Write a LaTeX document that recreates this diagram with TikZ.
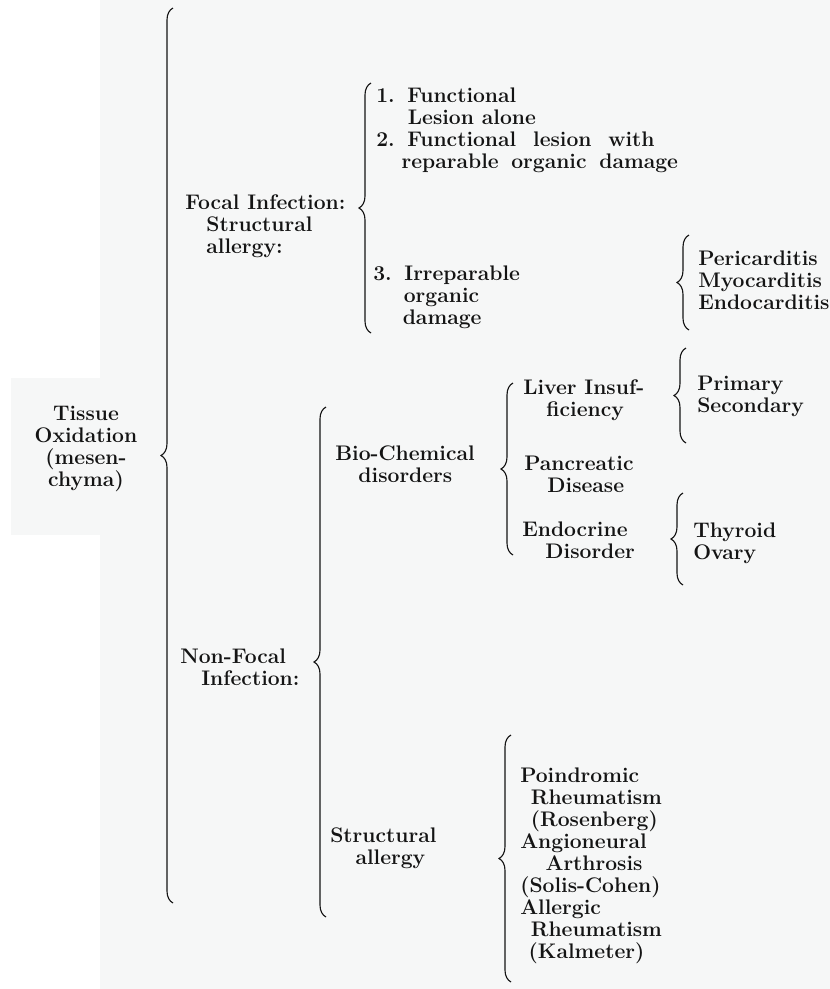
\documentclass[tikz,border=0pt]{standalone}
\usetikzlibrary{decorations.pathreplacing}
\definecolor{paper}{HTML}{F6F7F7}
\definecolor{ink}{HTML}{141414}
\tikzset{
  lbl/.style={anchor=west,inner sep=0pt,align=left,text=ink,font=\fontsize{15}{15.65}\selectfont\bfseries},
  brc/.style={draw=ink,line width=0.8pt,decorate,decoration={brace,amplitude=0.3cm}}
}
\begin{document}
\begin{tikzpicture}[x=0.025cm,y=-0.025cm]
\useasboundingbox (0,0) rectangle (830,989);
\fill[paper] (100,0) rectangle (830,989);
\fill[paper] (11,378) rectangle (100,535);
\node[lbl,anchor=center,align=center] (tissue) at (86,449) {Tissue\\Oxidation\\(mesen-\\chyma)};
\node[lbl] (focal) at (185,226) {Focal Infection:\\\hspace*{1em}Structural\\\hspace*{1em}allergy:};
\node[lbl] (funct) at (376,130) {1.\hspace{0.6em}Functional\\\hspace*{1.5em}Lesion alone\\2.\hspace{0.6em}Functional\hspace{0.8em}lesion\hspace{0.8em}with\\\hspace*{1.2em}reparable\hspace{0.6em}organic\hspace{0.6em}damage};
\node[lbl] (irrep) at (373,297) {3.\hspace{0.6em}Irreparable\\\hspace*{1.45em}organic\\\hspace*{1.4em}damage};
\node[lbl] (cardiac) at (698,280) {Pericarditis\\Myocarditis\\Endocarditis};
\node[lbl] (nonfocal) at (180,667) {Non-Focal\\\hspace*{1em}Infection:};
\node[lbl] (biochem) at (335,464) {Bio-Chemical\\\hspace*{1.1em}disorders};
\node[lbl] (liver) at (523,400) {Liver Insuf-\\\hspace*{1.1em}ficiency};
\node[lbl] (pancreas) at (524,474) {Pancreatic\\\hspace*{1.1em}Disease};
\node[lbl] (endocrine) at (522,540) {Endocrine\\\hspace*{1.1em}Disorder};
\node[lbl] (primary) at (697,396) {Primary\\Secondary};
\node[lbl] (thyroid) at (693,543) {Thyroid\\Ovary};
\node[lbl] (structural) at (330,848) {Structural\\\hspace*{1.2em}allergy};
\node[lbl] (rheuma) at (520,866) {Poindromic\\\hspace*{0.5em}Rheumatism\\\hspace*{0.5em}(Rosenberg)\\Angioneural\\\hspace*{1.2em}Arthrosis\\(Solis-Cohen)\\Allergic\\\hspace*{0.5em}Rheumatism\\\hspace*{0.4em}(Kalmeter)};
\coordinate (mainT) at (173,8);
\coordinate (mainB) at (173,903);
\coordinate (focalT) at (371,83);
\coordinate (focalB) at (371,333);
\coordinate (cardiacT) at (689,235);
\coordinate (cardiacB) at (689,330);
\coordinate (nonfocalT) at (326,407);
\coordinate (nonfocalB) at (326,917);
\coordinate (biochemT) at (513,383);
\coordinate (biochemB) at (513,555);
\coordinate (primaryT) at (686,348);
\coordinate (primaryB) at (686,443);
\coordinate (thyroidT) at (683,493);
\coordinate (thyroidB) at (683,585);
\coordinate (structuralT) at (511,735);
\coordinate (structuralB) at (511,982);
\draw[brc] (mainB) -- (mainT);
\draw[brc] (focalB) -- (focalT);
\draw[brc] (cardiacB) -- (cardiacT);
\draw[brc] (nonfocalB) -- (nonfocalT);
\draw[brc] (biochemB) -- (biochemT);
\draw[brc] (primaryB) -- (primaryT);
\draw[brc] (thyroidB) -- (thyroidT);
\draw[brc] (structuralB) -- (structuralT);
\end{tikzpicture}
\end{document}
